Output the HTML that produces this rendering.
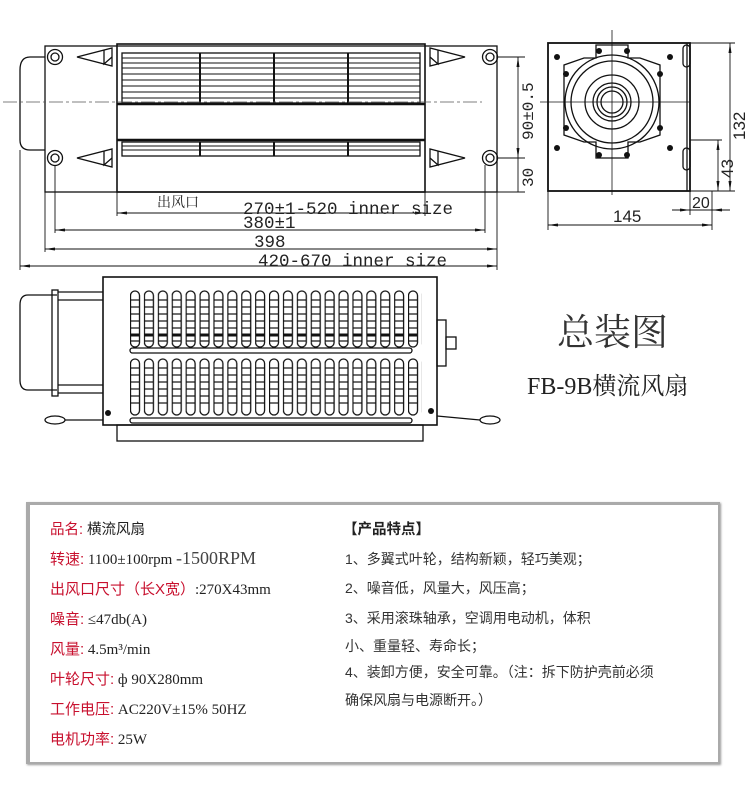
<!DOCTYPE html>
<html><head><meta charset="utf-8"><style>
body{margin:0;background:#fff;width:750px;height:785px;overflow:hidden;font-family:"Liberation Sans","Noto Sans CJK SC",sans-serif}
.t{position:absolute;white-space:nowrap;font-size:14.5px;color:#222}
.r{color:#c8102e;font-family:"Liberation Sans","Noto Sans CJK SC",sans-serif}
.s{font-family:"Liberation Serif","Noto Serif CJK SC",serif;font-size:15px}
</style></head><body>
<svg width="750" height="785" style="position:absolute;left:0;top:0" xmlns="http://www.w3.org/2000/svg" font-family="Liberation Sans, DejaVu Sans, sans-serif">
<defs>
<pattern id="slot" x="130" y="0" width="13.9" height="785" patternUnits="userSpaceOnUse">
<rect x="0.5" y="291" width="9" height="56" rx="4.5" fill="#fff" stroke="#111" stroke-width="1.3"/>
<rect x="0.5" y="359" width="9" height="56" rx="4.5" fill="#fff" stroke="#111" stroke-width="1.3"/>
<g stroke="#111" stroke-width="1.2">
<line x1="1" y1="300" x2="9" y2="300"/><line x1="1" y1="307" x2="9" y2="307"/><line x1="1" y1="314" x2="9" y2="314"/><line x1="1" y1="321" x2="9" y2="321"/><line x1="1" y1="328" x2="9" y2="328"/><line x1="1" y1="335" x2="9" y2="335" stroke-width="3"/><line x1="1" y1="341" x2="9" y2="341"/>
<line x1="1" y1="368" x2="9" y2="368"/><line x1="1" y1="375" x2="9" y2="375"/><line x1="1" y1="382" x2="9" y2="382"/><line x1="1" y1="389" x2="9" y2="389"/><line x1="1" y1="396" x2="9" y2="396"/><line x1="1" y1="403" x2="9" y2="403"/>
</g>
</pattern>
<marker id="a" markerWidth="10" markerHeight="6" refX="10" refY="3" orient="auto-start-reverse" markerUnits="userSpaceOnUse"><path d="M0,1.5 L10,3 L0,4.5z" fill="#111"/></marker>
</defs>
<g fill="none" stroke="#111" stroke-width="1.3">
<!-- TOP VIEW -->
<path d="M45,57 L30,57 Q20,57 20,70 L20,140 Q20,150 30,150 L45,150"/>
<rect x="45" y="46" width="452" height="146"/>
<rect x="117" y="44" width="308" height="148" stroke-width="1.6"/>
<rect x="122" y="53" width="298" height="50"/>
<g stroke-width="1">
<line x1="122" y1="58" x2="420" y2="58"/><line x1="122" y1="63" x2="420" y2="63"/><line x1="122" y1="68" x2="420" y2="68"/><line x1="122" y1="74" x2="420" y2="74"/><line x1="122" y1="80" x2="420" y2="80"/><line x1="122" y1="86" x2="420" y2="86"/><line x1="122" y1="92" x2="420" y2="92"/><line x1="122" y1="98" x2="420" y2="98"/>
<line x1="122" y1="146" x2="420" y2="146"/><line x1="122" y1="150" x2="420" y2="150"/>
</g>
<line x1="117" y1="104" x2="425" y2="104" stroke-width="2.5"/>
<line x1="117" y1="140" x2="425" y2="140" stroke-width="2.5"/>
<rect x="122" y="142" width="298" height="14"/>
<line x1="200" y1="53" x2="200" y2="103" stroke-width="2"/><line x1="274" y1="53" x2="274" y2="103" stroke-width="2"/><line x1="348" y1="53" x2="348" y2="103" stroke-width="2"/>
<line x1="200" y1="142" x2="200" y2="156" stroke-width="2"/><line x1="274" y1="142" x2="274" y2="156" stroke-width="2"/><line x1="348" y1="142" x2="348" y2="156" stroke-width="2"/>
<circle cx="55" cy="57" r="7.5"/><circle cx="55" cy="57" r="4"/><circle cx="490" cy="57" r="7.5"/><circle cx="490" cy="57" r="4"/>
<circle cx="55" cy="158" r="7.5"/><circle cx="55" cy="158" r="4"/><circle cx="490" cy="158" r="7.5"/><circle cx="490" cy="158" r="4"/>
<path d="M77,57 L112,48 L112,66z"/><path d="M104,50 L104,64 L112,57"/>
<path d="M77,158 L112,149 L112,167z"/><path d="M104,151 L104,165 L112,158"/>
<path d="M465,57 L430,48 L430,66z"/><path d="M438,50 L438,64 L430,57"/>
<path d="M465,158 L430,149 L430,167z"/><path d="M438,151 L438,165 L430,158"/>
<line x1="3" y1="102" x2="482" y2="102" stroke-width="0.8" stroke-dasharray="14,3,3,3" stroke="#555"/>
<g stroke-width="0.9">
<line x1="117" y1="192" x2="117" y2="216"/><line x1="425" y1="192" x2="425" y2="216"/>
<line x1="55" y1="165" x2="55" y2="233"/><line x1="485" y1="165" x2="485" y2="233"/>
<line x1="45" y1="192" x2="45" y2="252"/><line x1="497" y1="192" x2="497" y2="270"/>
<line x1="20" y1="150" x2="20" y2="270"/>
<line x1="117" y1="213" x2="425" y2="213" marker-start="url(#a)" marker-end="url(#a)"/>
<line x1="55" y1="230" x2="485" y2="230" marker-start="url(#a)" marker-end="url(#a)"/>
<line x1="45" y1="249" x2="497" y2="249" marker-start="url(#a)" marker-end="url(#a)"/>
<line x1="20" y1="266" x2="497" y2="266" marker-start="url(#a)" marker-end="url(#a)"/>
<line x1="497" y1="57" x2="525" y2="57"/><line x1="497" y1="158" x2="525" y2="158"/><line x1="497" y1="192" x2="525" y2="192"/>
<line x1="518" y1="57" x2="518" y2="158" marker-start="url(#a)" marker-end="url(#a)"/>
<line x1="518" y1="158" x2="518" y2="192"/>
</g>
<!-- SIDE VIEW -->
<rect x="548" y="43" width="142" height="148" stroke-width="1.8"/>
<line x1="687" y1="43" x2="687" y2="191"/>
<path d="M596,45 L628,45 L628,58 L640,58 L660,65 L660,135 L640,142 L628,142 L628,158 L596,158 L596,142 L584,142 L564,135 L564,65 L584,58 L596,58z"/>
<circle cx="612" cy="102" r="47"/><circle cx="612" cy="102" r="41"/><circle cx="612" cy="102" r="27"/><circle cx="612" cy="102" r="19"/><circle cx="612" cy="102" r="15"/><circle cx="612" cy="102" r="11"/>
<rect x="683" y="45" width="7" height="22" rx="3.5"/><rect x="683" y="148" width="7" height="22" rx="3.5"/>
<g fill="#111" stroke="none"><circle cx="599" cy="51" r="3"/><circle cx="627" cy="51" r="3"/><circle cx="599" cy="155" r="3"/><circle cx="627" cy="155" r="3"/><circle cx="557" cy="57" r="3"/><circle cx="670" cy="57" r="3"/><circle cx="566" cy="74" r="3"/><circle cx="660" cy="74" r="3"/><circle cx="566" cy="128" r="3"/><circle cx="660" cy="128" r="3"/><circle cx="557" cy="148" r="3"/><circle cx="670" cy="148" r="3"/></g>
<g stroke-width="0.8"><line x1="540" y1="102" x2="690" y2="102"/><line x1="612" y1="30" x2="612" y2="195"/></g>
<g stroke-width="0.9">
<line x1="690" y1="43" x2="735" y2="43"/><line x1="690" y1="140" x2="722" y2="140"/><line x1="690" y1="191" x2="735" y2="191"/>
<line x1="730" y1="43" x2="730" y2="191" marker-start="url(#a)" marker-end="url(#a)"/>
<line x1="718" y1="140" x2="718" y2="191" marker-start="url(#a)" marker-end="url(#a)"/>
<line x1="548" y1="191" x2="548" y2="230"/><line x1="690" y1="191" x2="690" y2="215"/><line x1="712" y1="191" x2="712" y2="230"/>
<line x1="672" y1="210" x2="690" y2="210" marker-end="url(#a)"/><line x1="730" y1="210" x2="712" y2="210" marker-end="url(#a)"/><line x1="690" y1="210" x2="712" y2="210"/>
<line x1="548" y1="225" x2="712" y2="225" marker-start="url(#a)" marker-end="url(#a)"/>
</g>
<!-- BOTTOM VIEW -->
<path d="M57,295 L28,295 Q20,295 20,305 L20,380 Q20,390 28,390 L57,390"/>
<rect x="52" y="290" width="6" height="106"/>
<line x1="58" y1="292" x2="103" y2="292"/><line x1="58" y1="393" x2="103" y2="393"/>
<line x1="58" y1="300" x2="103" y2="300"/><line x1="58" y1="385" x2="103" y2="385"/>
<rect x="103" y="277" width="334" height="148" stroke-width="1.6"/>
<rect x="117" y="425" width="306" height="16"/>
<rect x="437" y="320" width="9" height="46"/><rect x="446" y="337" width="10" height="12"/>
<rect x="130" y="348" width="282" height="5" rx="2.5"/><rect x="130" y="418" width="282" height="5" rx="2.5"/>
<ellipse cx="55" cy="420" rx="10" ry="4"/><ellipse cx="490" cy="420" rx="10" ry="4"/>
<line x1="65" y1="420" x2="103" y2="420"/><line x1="437" y1="416" x2="480" y2="420"/>
</g>
<rect x="130" y="285" width="292" height="135" fill="url(#slot)"/>
<g fill="#111"><circle cx="108" cy="413" r="3"/><circle cx="431" cy="411" r="3"/></g>
<g font-size="17.5" fill="#222" font-family="Liberation Mono, DejaVu Sans Mono, monospace">
<text x="243" y="214">270±1-520 inner size</text>
<text x="243" y="228">380±1</text>
<text x="254" y="247">398</text>
<text x="258" y="266">420-670 inner size</text>
</g>
<text x="157" y="207" font-size="14" fill="#222" font-family="Liberation Serif, Noto Serif CJK SC, serif">出风口</text>
<text transform="translate(533,140) rotate(-90)" font-size="16" fill="#222" font-family="Liberation Mono, monospace">90±0.5</text>
<text transform="translate(533,187) rotate(-90)" font-size="16" fill="#222" font-family="Liberation Mono, monospace">30</text>
<text transform="translate(745,140) rotate(-90)" font-size="17" fill="#222">132</text>
<text transform="translate(733,178) rotate(-90)" font-size="17" fill="#222">43</text>
<text x="692" y="208" font-size="16" fill="#222">20</text>
<text x="613" y="222" font-size="17" fill="#222">145</text>
</svg>
<div class="t" style="left:557px;top:302px;font-size:37px;color:#333;font-family:'Liberation Serif','Noto Serif CJK SC',serif">总装图</div>
<div class="t" style="left:527px;top:366px;font-size:24px;color:#222;font-family:'Liberation Serif','Noto Serif CJK SC',serif">FB-9B横流风扇</div>
<div style="position:absolute;left:26px;top:502px;width:688px;height:257px;border:2px solid #aaa;border-left-width:4px;border-top-width:3px;box-shadow:1px 1px 2px #999"></div>
<div class="t" style="left:50px;top:518px"><span class="r">品名:</span> 横流风扇</div>
<div class="t s" style="left:50px;top:548px"><span class="r">转速:</span> 1100±100rpm <span style="font-size:18px;color:#444">-1500RPM</span></div>
<div class="t s" style="left:50px;top:578px"><span class="r">出风口尺寸（长X宽）</span>:270X43mm</div>
<div class="t s" style="left:50px;top:608px"><span class="r">噪音:</span> ≤47db(A)</div>
<div class="t s" style="left:50px;top:638px"><span class="r">风量:</span> 4.5m³/min</div>
<div class="t s" style="left:50px;top:668px"><span class="r">叶轮尺寸:</span> ф 90X280mm</div>
<div class="t s" style="left:50px;top:698px"><span class="r">工作电压:</span> AC220V±15% 50HZ</div>
<div class="t s" style="left:50px;top:728px"><span class="r">电机功率:</span> 25W</div>
<div class="t" style="left:343px;top:518px;font-weight:bold">【产品特点】</div>
<div class="t" style="left:345px;top:549px;font-size:14px;color:#333">1、多翼式叶轮，结构新颖，轻巧美观；</div>
<div class="t" style="left:345px;top:578px;font-size:14px;color:#333">2、噪音低，风量大，风压高；</div>
<div class="t" style="left:345px;top:608px;font-size:14px;color:#333">3、采用滚珠轴承，空调用电动机，体积</div>
<div class="t" style="left:345px;top:636px;font-size:14px;color:#333">小、重量轻、寿命长；</div>
<div class="t" style="left:345px;top:662px;font-size:14px;color:#333">4、装卸方便，安全可靠。（注：拆下防护壳前必须</div>
<div class="t" style="left:345px;top:690px;font-size:14px;color:#333">确保风扇与电源断开。）</div>
</body></html>
